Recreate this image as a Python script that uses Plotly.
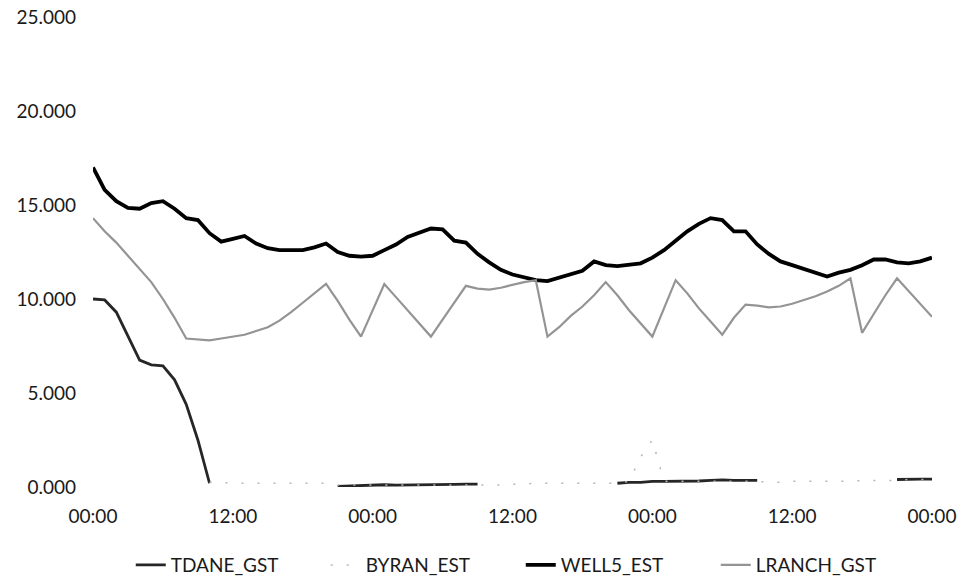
import plotly.graph_objects as go

hours = list(range(0, 73))
tick_vals = [0, 12, 24, 36, 48, 60, 72]
tick_text = ["00:00", "12:00", "00:00", "12:00", "00:00", "12:00", "00:00"]

N = None
tdane_gst = [10.0, 9.95, 9.3, 8.0, 6.75, 6.5, 6.45, 5.7, 4.4, 2.5, 0.2,
             N, N, N, N, N, N, N, N, N, N,
             0.03, 0.05, 0.06, 0.07, 0.12, 0.1, 0.1, 0.1, 0.12, 0.13, 0.14, 0.15, 0.15,
             N, N, N, N, N, N, N, N, N, N, N,
             0.2, 0.25, 0.25, 0.3, 0.3, 0.3, 0.3, 0.32, 0.35, 0.38, 0.35, 0.35, 0.35,
             N, N, N, N, N, N, N, N, N, N, N,
             0.4, 0.42, 0.42, 0.42]

byran_est = [N, N, N, N, N, N, N, N, N, N,
             0.25, 0.25, 0.2, 0.2, 0.2, 0.2, 0.2, 0.2, 0.2, 0.2,
             0.2, 0.1, 0.1, 0.1, 0.1, 0.1, 0.1, 0.1, 0.1, 0.1,
             0.1, 0.1, 0.1, 0.1, 0.1, 0.1, 0.15, 0.15, 0.2, 0.2,
             0.2, 0.2, 0.2, 0.2, 0.2, 0.2, 0.3, 1.6, 2.5, 0.3,
             0.3, 0.3, 0.3, 0.3, 0.3, 0.3, 0.3, 0.3, 0.25, 0.25,
             0.3, 0.3, 0.3, 0.3, 0.3, 0.3, 0.35, 0.35, 0.35, 0.35,
             0.4, 0.4, 0.4]

well5_est = [17.0, 15.8, 15.2, 14.85, 14.8, 15.1, 15.2, 14.8, 14.3, 14.2,
             13.5, 13.05, 13.2, 13.35, 12.95, 12.7, 12.6, 12.6, 12.6, 12.75,
             12.95, 12.5, 12.3, 12.25, 12.3, 12.6, 12.9, 13.3, 13.55, 13.75,
             13.7, 13.1, 13.0, 12.4, 11.95, 11.55, 11.3, 11.15, 11.0, 10.95,
             11.15, 11.35, 11.5, 12.0, 11.8, 11.75, 11.8, 11.9, 12.2, 12.6,
             13.1, 13.6, 14.0, 14.3, 14.2, 13.6, 13.6, 12.9, 12.4, 12.0,
             11.8, 11.6, 11.35, 11.2, 11.4, 11.55, 11.8, 12.1, 12.1, 11.95,
             11.9, 12.0, 12.2]

lranch_gst = [14.3, 13.6, 13.0, 12.3, 11.6, 10.9, 10.0, 9.0, 7.9, 7.85,
              7.8, 7.9, 8.0, 8.1, 8.3, 8.5, 8.85, 9.3, 9.8, 10.3,
              10.8, 9.9, 8.9, 8.0, 9.4, 10.8, 10.1, 9.4, 8.7, 8.0,
              8.9, 9.8, 10.7, 10.55, 10.5, 10.6, 10.75, 10.9, 11.0, 8.0,
              8.5, 9.1, 9.6, 10.2, 10.9, 10.2, 9.4, 8.7, 8.0, 9.5,
              11.0, 10.3, 9.5, 8.8, 8.1, 9.0, 9.7, 9.65, 9.55, 9.6,
              9.75, 9.95, 10.15, 10.4, 10.7, 11.1, 8.2, 9.2, 10.2, 11.1,
              10.4, 9.7, 9.05]

font_family = "Lato, 'Open Sans', sans-serif"

fig = go.Figure()
fig.add_trace(go.Scatter(x=hours, y=tdane_gst, mode="lines", name="TDANE_GST",
                         line=dict(color="#262626", width=2.8), connectgaps=False))
fig.add_trace(go.Scatter(x=hours, y=byran_est, mode="lines", name="BYRAN_EST",
                         line=dict(color="#b5b5b5", width=1.5, dash="2px,14px"),
                         connectgaps=False))
fig.add_trace(go.Scatter(x=hours, y=well5_est, mode="lines", name="WELL5_EST",
                         line=dict(color="#000000", width=3.8)))
fig.add_trace(go.Scatter(x=hours, y=lranch_gst, mode="lines", name="LRANCH_GST",
                         line=dict(color="#949494", width=2.2)))

fig.update_layout(
    width=961, height=582,
    margin=dict(l=93, r=29, t=17, b=95, autoexpand=False),
    paper_bgcolor="white", plot_bgcolor="white",
    font=dict(family=font_family, size=19, color="#1a1a1a"),
    showlegend=True,
    legend=dict(orientation="h", x=0.045, xanchor="left",
                y=0.029, yanchor="middle", yref="container",
                entrywidth=150, font=dict(size=19, color="#1a1a1a"),
                bgcolor="rgba(0,0,0,0)"),
)
fig.update_xaxes(range=[0, 72], tickmode="array", tickvals=tick_vals, ticktext=tick_text,
                 showgrid=False, zeroline=False, showline=False, ticks="",
                 ticklabelstandoff=16)
fig.update_yaxes(range=[0, 25], tickvals=[0, 5, 10, 15, 20, 25], tickformat=".3f",
                 showgrid=False, zeroline=False, showline=False, ticks="",
                 ticklabelstandoff=16)

fig.write_html("out.html", config={"displayModeBar": False},
               post_script="document.body.style.margin='0';")
